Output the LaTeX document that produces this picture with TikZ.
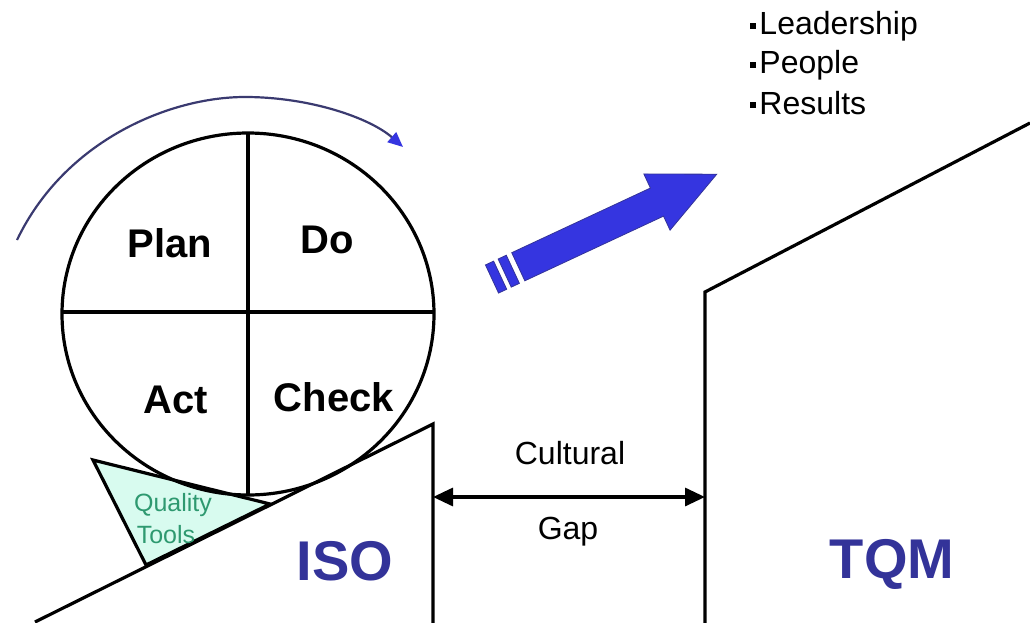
\documentclass[tikz,border=0pt]{standalone}
\usepackage{fontspec}
\setmainfont{Liberation Sans}
\usetikzlibrary{arrows.meta}
\definecolor{navy}{HTML}{333399}
\definecolor{arrowblue}{HTML}{3535E0}
\definecolor{arcline}{HTML}{3A3A70}
\definecolor{toolfill}{HTML}{D8FBEF}
\definecolor{toolgreen}{HTML}{2E9970}
\tikzset{
  edge/.style={line width=3.2pt, draw=black},
  pdca/.style={font=\fontsize{40}{44}\selectfont\bfseries, inner sep=0pt},
  big/.style={font=\fontsize{56}{60}\selectfont\bfseries, text=navy, inner sep=0pt},
  lbl/.style={font=\fontsize{32}{36}\selectfont, inner sep=0pt},
  tool/.style={font=\fontsize{25}{28}\selectfont, text=toolgreen, inner sep=0pt},
  bul/.style={font=\fontsize{32}{36}\selectfont, inner sep=0pt, anchor=base west},
  bluepart/.style={fill=arrowblue, draw=navy, line width=0.8pt}
}
\newcommand{\sqbul}{\rule[0.2em]{0.17em}{0.17em}\hspace{0.12em}}
\begin{document}
\begin{tikzpicture}[x=1pt,y=-1pt]
\useasboundingbox[fill=white] (0,0) rectangle (1030,623);
% quality tools triangle
\coordinate (t1) at (93,460);
\coordinate (t2) at (146,565);
\coordinate (t3) at (270,504);
\draw[edge, fill=toolfill] (t1) -- (t3) -- (t2) -- cycle;
\node[tool] (q1) at (173,505) {Quality};
\node[tool] (q2) at (166,535) {Tools};
% PDCA circle
\coordinate (cc) at (248,314);
\draw[edge] (cc) ellipse [x radius=186, y radius=181];
\coordinate (cl) at (62,312); \coordinate (cr) at (434,312);
\coordinate (ct) at (248,133); \coordinate (cb) at (248,495);
\draw[edge] (cl) -- (cr);
\draw[edge] (ct) -- (cb);
\node[pdca] (plan) at (170,243) {Plan};
\node[pdca] (do) at (327,240) {Do};
\node[pdca] (act) at (176,400) {Act};
\node[pdca] (check) at (334,397) {Check};
% rotation arc
\coordinate (a0) at (17,240);
\coordinate (a1) at (245,97);
\coordinate (a2) at (403,147);
\draw[line width=2.2pt, arcline, -{Triangle[length=15pt,width=13pt,color=arrowblue]}]
  (a0) .. controls (65,140) and (170,97) .. (a1) .. controls (310,97) and (370,118) .. (a2);
% ISO step
\coordinate (d1) at (35,622);
\coordinate (d2) at (433,424);
\coordinate (d3) at (433,623);
\draw[edge] (d1) -- (d2) -- (d3);
% TQM step
\coordinate (e1) at (705,623);
\coordinate (e2) at (705,292);
\coordinate (e3) at (1030,123);
\draw[edge] (e1) -- (e2) -- (e3);
% cultural gap
\coordinate (g1) at (433,497);
\coordinate (g2) at (705,497);
\draw[edge, {Triangle[length=20pt,width=18pt]}-{Triangle[length=20pt,width=18pt]}] (g1) -- (g2);
\node[lbl] (cult) at (570,453) {Cultural};
\node[lbl] (gap) at (568,532) {Gap};
% labels
\node[big] (iso) at (345,561) {ISO};
\node[big] (tqm) at (892,564) {TQM};
% bullets
\node[bul] (b1) at (750,35) {\sqbul Leadership};
\node[bul] (b2) at (750,74) {\sqbul People};
\node[bul] (b3) at (750,114) {\sqbul Results};
% blue striped arrow
\begin{scope}[shift={(492,279)}, rotate=25]
  \path[bluepart] (0,-15.5) rectangle (9,15.5);
  \path[bluepart] (14,-15.5) rectangle (23,15.5);
  \path[bluepart]
    (29,-15.5) -- (182,-15.5) -- (182,-31) -- (248,0) -- (182,31) -- (182,15.5) -- (29,15.5) -- cycle;
\end{scope}
\end{tikzpicture}
\end{document}
